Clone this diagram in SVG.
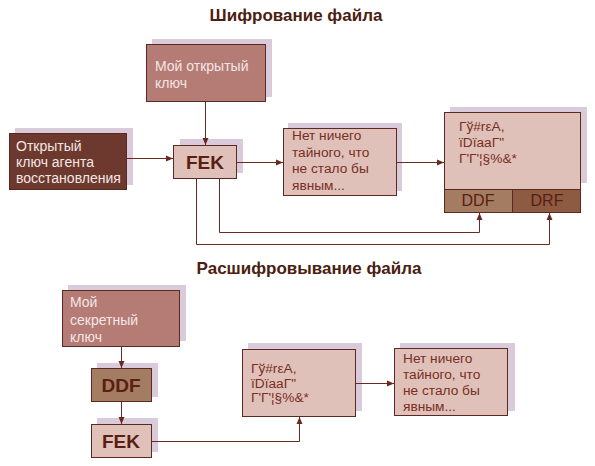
<svg xmlns="http://www.w3.org/2000/svg" width="595" height="466" viewBox="0 0 595 466">
<defs>
<marker id="ah" markerWidth="8" markerHeight="8" refX="7" refY="4" orient="auto" markerUnits="userSpaceOnUse">
<path d="M0,1 L7,4 L0,7 Z" fill="#6a2a20"/>
</marker>
</defs>
<style>
.sh{fill:#dacbdb}
.bx{stroke:#5a2a22;stroke-width:1}
.pink{fill:#dfc1ba}
.rose{fill:#b57b75}
.dark{fill:#6d392e}
.ddf{fill:#a47c62}
.drf{fill:#8d5b42}
.t{font-family:"Liberation Sans",Arial,sans-serif;font-size:13.7px;fill:#7a2e22}
.tl{font-family:"Liberation Sans",Arial,sans-serif;font-size:14px;fill:#f4e6e4}
.big{font-family:"Liberation Sans",Arial,sans-serif;font-size:19px;font-weight:bold;fill:#5a1e12;text-anchor:middle}
.df{font-family:"Liberation Sans",Arial,sans-serif;font-size:16px;fill:#5a1e12;text-anchor:middle}
.title{font-family:"Liberation Sans",Arial,sans-serif;font-size:17px;font-weight:bold;fill:#4a2010;text-anchor:middle}
.c{fill:none;stroke:#6a2a20;stroke-width:1}
</style>
<rect width="595" height="466" fill="#ffffff"/>
<text class="title" x="296" y="21">Шифрование файла</text>
<text class="title" x="309" y="274">Расшифровывание файла</text>

<g id="pubkey">
<rect class="sh" x="152" y="39" width="120" height="58"/>
<rect class="bx rose" x="146.5" y="44.5" width="119" height="57"/>
<text class="tl" x="155" y="71">Мой открытый</text>
<text class="tl" x="155" y="88">ключ</text>
</g>
<g id="agent">
<rect class="sh" x="15" y="128" width="118" height="57"/>
<rect class="bx dark" x="9.5" y="133.5" width="117" height="56"/>
<text class="tl" x="16" y="151">Открытый</text>
<text class="tl" x="16" y="167">ключ агента</text>
<text class="tl" x="16" y="183">восстановления</text>
</g>
<g id="fek1">
<rect class="sh" x="180" y="139" width="63" height="34"/>
<rect class="bx pink" x="173.5" y="145.5" width="63" height="33"/>
<text class="big" x="205" y="169">FEK</text>
</g>
<g id="plain1">
<rect class="sh" x="288" y="123" width="114" height="68"/>
<rect class="bx pink" x="283.5" y="128.5" width="113" height="67"/>
<text class="t" x="292" y="140">Нет ничего</text>
<text class="t" x="292" y="157">тайного, что</text>
<text class="t" x="292" y="173">не стало бы</text>
<text class="t" x="292" y="190">явным...</text>
</g>
<g id="cipher1">
<rect class="sh" x="450" y="107" width="137" height="76"/>
<rect class="bx pink" x="444.5" y="112.5" width="136" height="100"/>
<rect class="bx ddf" x="444.5" y="189.5" width="68" height="23"/>
<rect class="bx drf" x="512.5" y="189.5" width="68" height="23"/>
<text class="t" x="459" y="131">Гў#rεA,</text>
<text class="t" x="459" y="147">ïDïaaГ"</text>
<text class="t" x="459" y="163">Г'Г'¦§%&amp;*</text>
<text class="df" x="478" y="206">DDF</text>
<text class="df" x="547" y="206">DRF</text>
</g>

<g id="seckey">
<rect class="sh" x="68" y="285" width="118" height="56"/>
<rect class="bx rose" x="62.5" y="290.5" width="117" height="56"/>
<text class="tl" x="70" y="307">Мой</text>
<text class="tl" x="70" y="325">секретный</text>
<text class="tl" x="70" y="342">ключ</text>
</g>
<g id="ddf2">
<rect class="sh" x="97" y="363" width="61" height="34"/>
<rect class="bx ddf" x="91.5" y="368.5" width="60" height="33"/>
<text class="big" x="121" y="392">DDF</text>
</g>
<g id="fek2">
<rect class="sh" x="97" y="418" width="61" height="34"/>
<rect class="bx pink" x="91.5" y="424.5" width="60" height="33"/>
<text class="big" x="121" y="448">FEK</text>
</g>
<g id="cipher2">
<rect class="sh" x="248" y="343" width="114" height="68"/>
<rect class="bx pink" x="242.5" y="349.5" width="113" height="67"/>
<text class="t" x="251" y="373">Гў#rεA,</text>
<text class="t" x="251" y="388">ïDïaaГ"</text>
<text class="t" x="251" y="402">Г'Г'¦§%&amp;*</text>
</g>
<g id="plain2">
<rect class="sh" x="400" y="343" width="115" height="68"/>
<rect class="bx pink" x="394.5" y="348.5" width="113" height="67"/>
<text class="t" x="403" y="363">Нет ничего</text>
<text class="t" x="403" y="379">тайного, что</text>
<text class="t" x="403" y="395">не стало бы</text>
<text class="t" x="403" y="411">явным...</text>
</g>

<g id="connectors">
<path class="c" d="M205.5,102 V145" marker-end="url(#ah)"/>
<path class="c" d="M127,158.5 H173" marker-end="url(#ah)"/>
<path class="c" d="M237,162.5 H283" marker-end="url(#ah)"/>
<path class="c" d="M397,162.5 H444" marker-end="url(#ah)"/>
<path class="c" d="M219.5,179 V232.5 H479.5 V213" marker-end="url(#ah)"/>
<path class="c" d="M196.5,179 V244.5 H549.5 V213" marker-end="url(#ah)"/>
<path class="c" d="M121.5,347 V368" marker-end="url(#ah)"/>
<path class="c" d="M121.5,402 V424" marker-end="url(#ah)"/>
<path class="c" d="M152,441.5 H299.5 V417" marker-end="url(#ah)"/>
<path class="c" d="M356,383.5 H394" marker-end="url(#ah)"/>
</g>
</svg>
